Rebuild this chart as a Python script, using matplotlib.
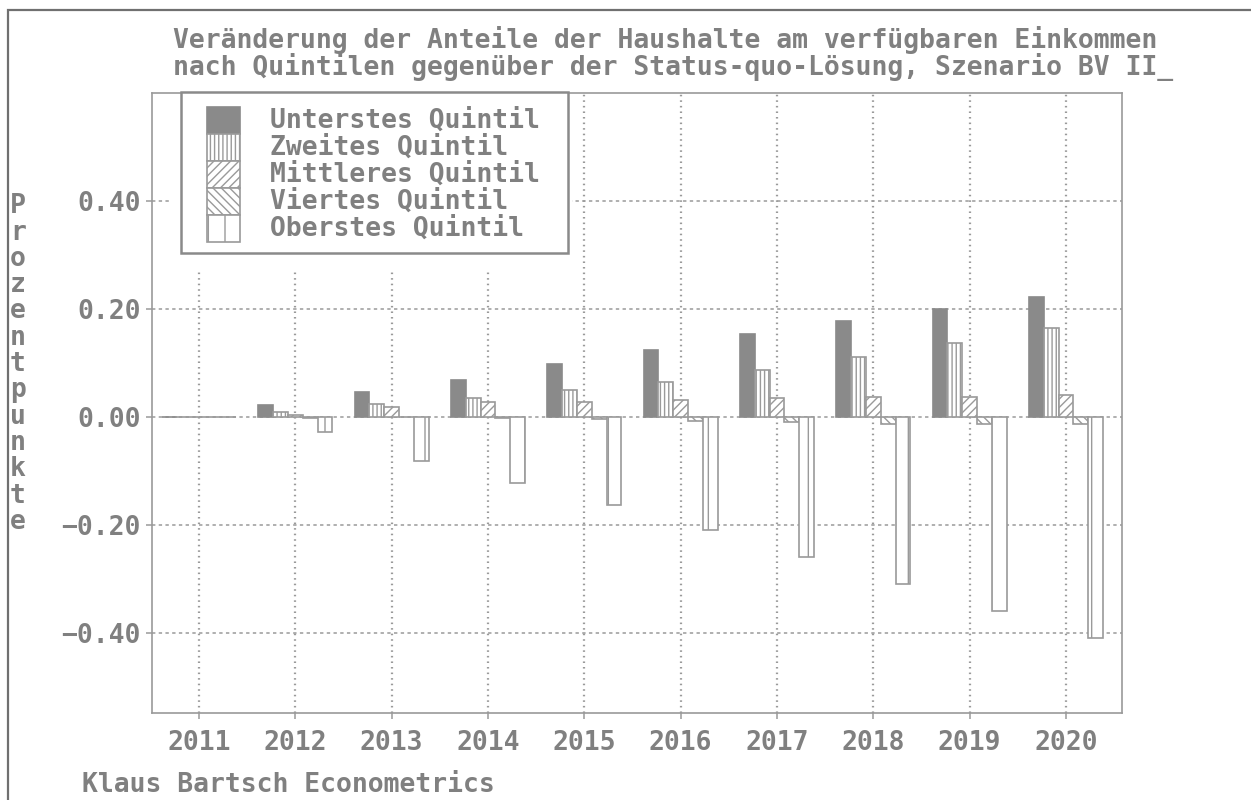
import matplotlib
matplotlib.use("Agg")
import matplotlib.pyplot as plt
from matplotlib.patches import Rectangle
import numpy as np

# ---- data ----
years = [2011, 2012, 2013, 2014, 2015, 2016, 2017, 2018, 2019, 2020]
series_names = ["Unterstes Quintil", "Zweites Quintil", "Mittleres Quintil",
                "Viertes Quintil", "Oberstes Quintil"]
unterstes = [0.0, 0.023, 0.047, 0.069, 0.098, 0.125, 0.154, 0.178, 0.200, 0.222]
zweites   = [0.0, 0.009, 0.025, 0.035, 0.050, 0.065, 0.087, 0.112, 0.138, 0.165]
mittleres = [0.0, 0.004, 0.019, 0.028, 0.028, 0.031, 0.036, 0.038, 0.038, 0.041]
viertes   = [0.0, -0.001, 0.0, -0.002, -0.003, -0.007, -0.010, -0.013, -0.013, -0.013]
oberstes  = [0.0, -0.028, -0.081, -0.122, -0.163, -0.209, -0.260, -0.309, -0.359, -0.409]
ytick_vals = [0.40, 0.20, 0.00, -0.20, -0.40]
ytick_labels = ["0.40", "0.20", "0.00", "\u22120.20", "\u22120.40"]
title1 = "Veränderung der Anteile der Haushalte am verfügbaren Einkommen"
title2 = "nach Quintilen gegenüber der Status-quo-Lösung, Szenario BV II_"
ylabel = "Prozentpunkte"
footer = "Klaus Bartsch Econometrics"

W, H = 1251, 800
TXT = "#808080"
EDGE = "#9a9a9a"
FONT = "DejaVu Sans Mono"
FS = 19
FW = "bold"

plt.rcParams["font.family"] = FONT
plt.rcParams["font.weight"] = FW
plt.rcParams["hatch.linewidth"] = 1.0
plt.rcParams["hatch.color"] = EDGE

fig = plt.figure(figsize=(W / 100, H / 100), dpi=100)
fig.patch.set_facecolor("white")

def fx(px):
    return px / W

def fy(py):
    return 1 - py / H

# outer frame (extends past the right and bottom edges)
fig.patches.append(Rectangle((fx(8), -0.5), 2.0, fy(10) + 0.5,
                             transform=fig.transFigure, fill=False, edgecolor="#707070",
                             linewidth=1.6, clip_on=False))

ax = fig.add_axes([fx(152), fy(713), fx(1122 - 152), (713 - 93) / H])
ax.set_xlim(2010.512, 2020.581)
ax.set_ylim(-0.548, 0.6)

styles = [
    dict(facecolor="#8a8a8a", edgecolor="#8a8a8a", hatch=None),
    dict(facecolor="white", edgecolor=EDGE, hatch="||||"),
    dict(facecolor="white", edgecolor=EDGE, hatch="////"),
    dict(facecolor="white", edgecolor=EDGE, hatch="\\\\\\\\"),
    dict(facecolor="white", edgecolor=EDGE, hatch="|"),
]
all_series = [unterstes, zweites, mittleres, viertes, oberstes]
w = 0.1536
x = np.array(years, dtype=float)
for i, (vals, st) in enumerate(zip(all_series, styles)):
    ax.bar(x + (i - 2) * w, vals, width=w, linewidth=1.2, zorder=3,
           label=series_names[i], **st)

# grid
ax.set_yticks(ytick_vals)
ax.set_yticklabels(ytick_labels)
ax.set_xticks(years)
ax.set_xticklabels([str(y) for y in years])
ax.yaxis.grid(True, color=EDGE, linestyle=(0, (2.2, 2.2)), linewidth=1.1, zorder=1)
ax.xaxis.grid(True, color=EDGE, linestyle=(0, (0.7, 1.8)), linewidth=1.6, zorder=1)
ax.set_axisbelow(True)

for sp in ax.spines.values():
    sp.set_color(EDGE)
    sp.set_linewidth(1.2)
ax.tick_params(axis="both", colors=EDGE, labelcolor=TXT, labelsize=FS,
               length=4, width=1.1, direction="out")
ax.tick_params(axis="y", pad=4)
ax.tick_params(axis="x", pad=8)

# white area behind the legend (interrupts the grid)
fig.patches.append(Rectangle((fx(172), fy(270)), fx(572 - 172), (270 - 94) / H,
                             transform=fig.transFigure, facecolor="white",
                             edgecolor="none", zorder=2))
# legend frame
fig.patches.append(Rectangle((fx(181), fy(253)), fx(568 - 181), (253 - 92) / H,
                             transform=fig.transFigure, facecolor="white",
                             edgecolor="#8a8a8a", linewidth=1.8, zorder=3))
for i, st in enumerate(styles):
    top = 107 + 27 * i
    fig.patches.append(Rectangle((fx(207), fy(top + 27)), fx(33), 27 / H,
                                 transform=fig.transFigure, linewidth=1.2,
                                 zorder=4, **st))
    fig.text(fx(270), fy(top + 14), series_names[i], color=TXT, fontsize=FS,
             ha="left", va="center", zorder=5)

# titles
fig.text(fx(173), fy(40), title1, color=TXT, fontsize=FS, ha="left", va="center")
fig.text(fx(173), fy(67), title2, color=TXT, fontsize=FS, ha="left", va="center")

# y label (stacked letters)
fig.text(fx(18), fy(364), "\n".join(ylabel), color=TXT, fontsize=FS,
         ha="center", va="center", linespacing=1.015)

# footer
fig.text(fx(82), fy(785), footer, color=TXT, fontsize=FS, ha="left", va="center")

fig.savefig("out.png", dpi=100)
